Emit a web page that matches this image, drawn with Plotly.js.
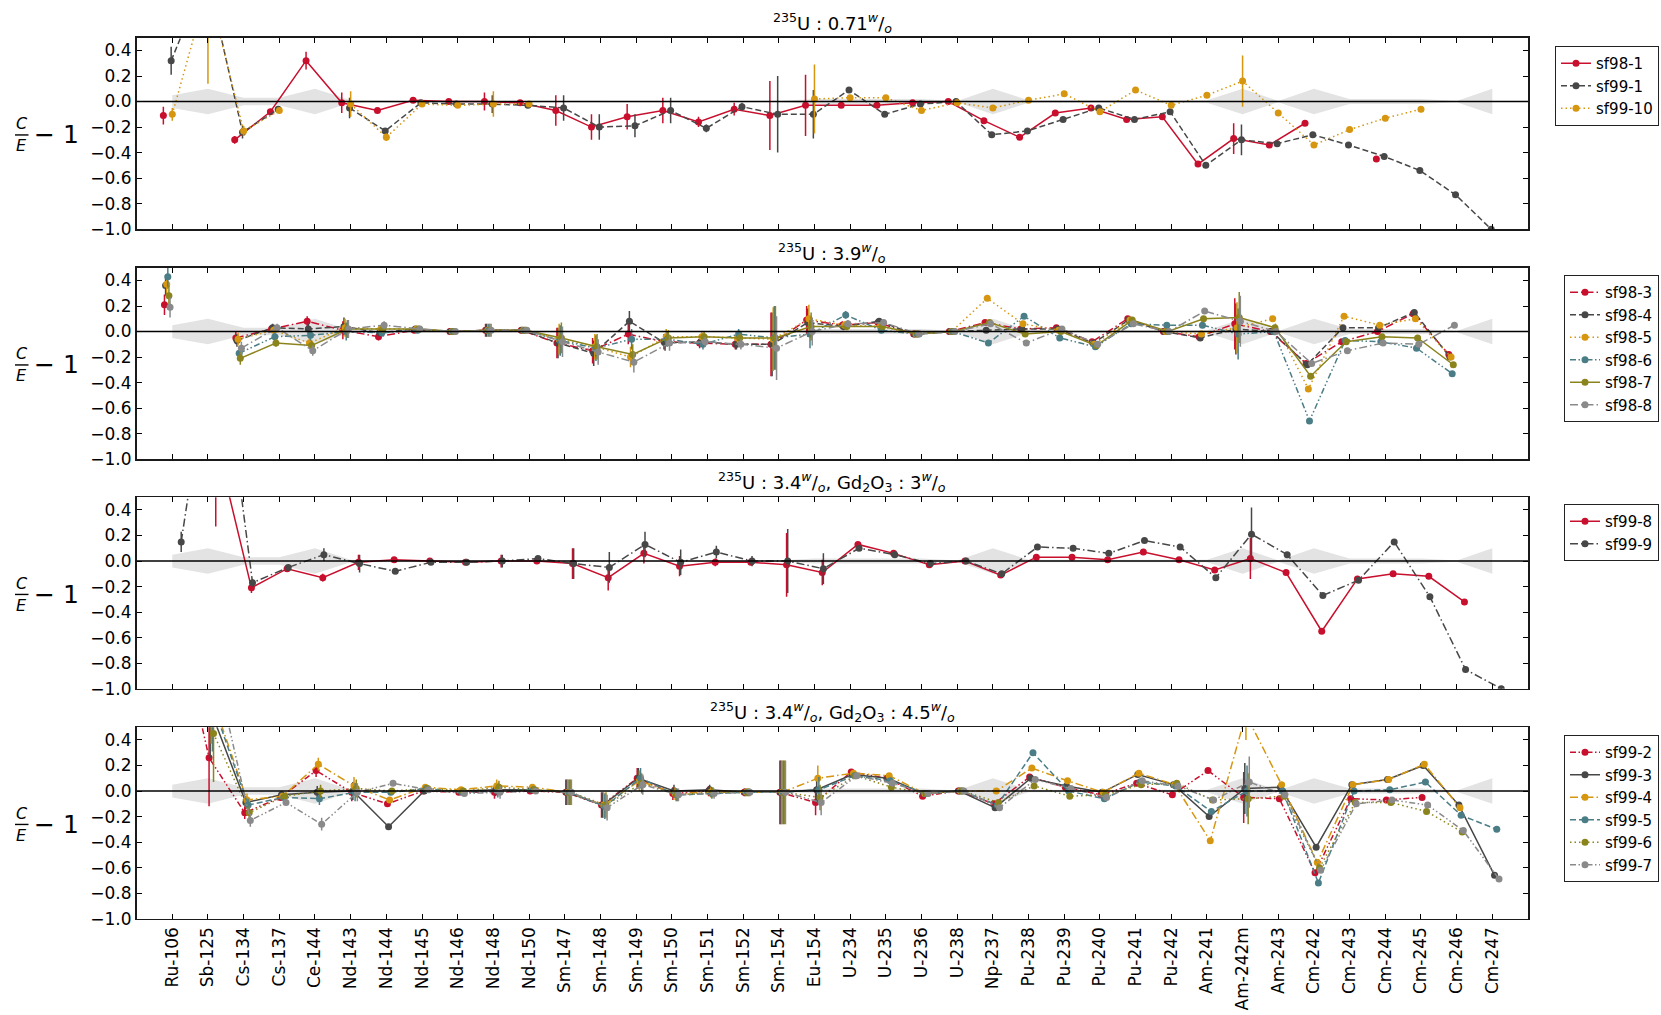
<!DOCTYPE html>
<html><head><meta charset="utf-8">
<script src="https://cdn.plot.ly/plotly-3.0.1.min.js"></script>
<style>html,body{margin:0;padding:0;background:#fff}#chart{width:1661px;height:1015px}</style>
</head><body><div id="chart"></div>
<script>
// ---------------- DATA ----------------
const categories = ["Ru-106","Sb-125","Cs-134","Cs-137","Ce-144","Nd-143","Nd-144","Nd-145","Nd-146","Nd-148","Nd-150",
  "Sm-147","Sm-148","Sm-149","Sm-150","Sm-151","Sm-152","Sm-154","Eu-154","U-234","U-235","U-236","U-238","Np-237",
  "Pu-238","Pu-239","Pu-240","Pu-241","Pu-242","Am-241","Am-242m","Am-243","Cm-242","Cm-243","Cm-244","Cm-245","Cm-246","Cm-247"];

// half width of the grey uncertainty band (same in every panel)
const bandHalfWidth = [0.05,0.10,0.03,0.03,0.10,0.01,0.005,0.005,0.005,0.005,0.005,0.005,0.005,0.005,0.005,0.005,0.005,0.005,
  0.02,0.02,0.02,0.02,0.005,0.10,0.01,0.01,0.01,0.01,0.01,0.01,0.10,0.005,0.10,0.02,0.02,0.02,0.005,0.10];

// Panel 1 : 235U 0.71 w/o
const sf98_1 = [-0.11,null,-0.30,-0.08,0.32,-0.01,-0.07,0.01,0.00,0.00,-0.01,-0.07,-0.20,-0.12,-0.07,-0.16,-0.06,-0.11,-0.03,
  -0.03,-0.03,-0.01,0.00,-0.15,-0.28,-0.09,-0.05,-0.14,-0.12,-0.49,-0.29,-0.34,-0.17,null,-0.45,null,null,null];
const err_sf98_1 = [0.07,0,0.03,0.02,0.07,0.08,0.02,0.01,0.01,0.07,0.01,0.12,0.10,0.10,0.10,0.04,0.05,0.27,0.24,
  0,0,0,0,0,0,0,0,0,0,0,0.12,0,0,0,0,0,0,0];
const sf99_1 = [0.32,1.00,-0.24,-0.06,null,-0.05,-0.23,-0.01,-0.02,-0.02,-0.03,-0.05,-0.20,-0.19,-0.07,-0.21,-0.04,-0.10,-0.10,
  0.09,-0.10,-0.02,0.00,-0.26,-0.23,-0.14,-0.05,-0.14,-0.08,-0.50,-0.30,-0.33,-0.26,-0.34,-0.43,-0.54,-0.73,-1.00];
const err_sf99_1 = [0.11,0,0.05,0.02,0,0.08,0.02,0.01,0.01,0.07,0.01,0.10,0.10,0.09,0.10,0.03,0.03,0.30,0.19,
  0,0,0,0,0,0,0,0,0,0,0,0.12,0,0,0,0,0,0,0];
const sf99_10 = [-0.10,0.90,-0.23,-0.07,null,-0.02,-0.28,-0.02,-0.03,-0.02,-0.02,null,null,null,null,null,null,null,0.02,
  0.03,0.03,-0.07,-0.01,-0.05,0.01,0.06,-0.08,0.09,-0.03,0.05,0.16,-0.09,-0.34,-0.22,-0.13,-0.06,null,null];
const err_sf99_10 = [0.05,0.76,0.04,0.02,0,0.10,0.03,0.01,0.01,0.10,0.01,0,0,0,0,0,0,0,0.27,
  0,0,0,0,0,0,0,0,0,0,0,0.20,0,0,0,0,0,0,0];

// Panel 2 : 235U 3.9 w/o
const sf98_3 = [0.21,null,-0.05,0.02,0.08,0.01,-0.04,0.01,0.00,0.01,0.01,-0.09,-0.15,-0.02,-0.08,-0.09,-0.10,-0.10,0.09,
  0.05,0.07,-0.02,0.00,0.07,0.02,0.03,-0.08,0.10,0.00,-0.04,0.06,0.00,-0.25,-0.08,0.00,0.14,-0.18,null];
const sf98_4 = [0.36,null,-0.07,0.03,0.02,0.04,-0.01,0.02,0.00,0.01,0.01,-0.09,-0.17,0.08,-0.09,-0.08,-0.10,-0.10,0.07,
  0.04,0.08,-0.02,0.00,0.01,0.02,0.02,-0.09,0.09,0.00,-0.05,0.02,0.00,-0.26,0.03,0.03,0.15,-0.20,null];
const sf98_5 = [0.37,null,-0.06,0.01,-0.09,0.03,0.02,0.02,0.00,0.01,0.01,-0.06,-0.12,-0.20,-0.04,-0.04,-0.05,-0.06,0.10,
  0.05,0.04,-0.02,0.00,0.26,0.06,0.01,-0.10,0.09,0.00,-0.02,0.03,0.10,-0.45,0.12,0.05,0.10,-0.20,null];
const sf98_6 = [0.43,null,-0.17,-0.04,-0.03,0.00,-0.01,0.01,0.00,0.01,0.01,-0.07,-0.13,-0.06,-0.06,-0.10,-0.02,-0.05,-0.02,
  0.13,0.01,-0.02,0.00,-0.09,0.12,-0.05,-0.12,0.06,0.05,0.05,-0.02,0.00,-0.70,-0.07,-0.08,-0.13,-0.33,null];
const sf98_7 = [0.28,null,-0.21,-0.09,-0.11,0.02,0.02,0.02,0.00,0.01,0.01,-0.05,-0.12,-0.18,-0.05,-0.04,-0.05,-0.05,0.04,
  0.04,0.04,-0.02,0.00,0.07,-0.02,0.00,-0.11,0.09,0.00,0.10,0.11,0.03,-0.35,-0.08,-0.04,-0.05,-0.26,null];
const sf98_8 = [0.19,null,-0.13,0.03,-0.15,0.02,0.05,0.02,0.00,0.01,0.01,-0.08,-0.16,-0.24,-0.09,-0.08,-0.10,-0.13,0.00,
  0.06,0.07,-0.02,0.00,0.06,-0.09,0.02,-0.10,0.06,0.00,0.16,0.08,0.00,-0.25,-0.15,-0.09,-0.10,0.05,null];
const err_panel2 = [0.08,0,0.05,0.03,0.04,0.07,0.03,0.02,0.01,0.05,0.01,0.12,0.10,0.08,0.06,0.04,0.04,0.25,0.11,
  0.03,0.02,0.01,0.01,0.02,0.02,0.02,0.02,0.02,0.02,0.02,0.20,0.02,0.02,0.02,0.02,0.02,0.02,0];

// Panel 3 : 235U 3.4 w/o, Gd2O3 3 w/o
const sf99_8 = [null,0.95,-0.21,-0.06,-0.13,-0.01,0.01,0.00,-0.01,0.00,0.00,-0.02,-0.13,0.06,-0.04,-0.01,-0.01,-0.03,-0.09,
  0.13,0.06,-0.03,0.00,-0.11,0.03,0.03,0.01,0.07,0.01,-0.07,0.02,-0.09,-0.55,-0.14,-0.10,-0.12,-0.32,null];
const err_sf99_8 = [0,0.68,0.04,0.01,0.03,0.06,0.02,0.01,0.01,0.05,0.01,0.12,0.10,0.08,0.08,0.03,0.02,0.25,0.10,
  0.01,0.01,0.01,0.01,0.01,0.01,0.01,0.01,0.01,0.01,0.01,0.16,0.01,0.01,0.01,0.01,0.01,0.01,0];
const sf99_9 = [0.15,2.00,-0.17,-0.05,0.05,-0.02,-0.08,-0.01,-0.01,0.00,0.02,-0.02,-0.05,0.13,-0.01,0.07,0.00,0.00,-0.06,
  0.10,0.05,-0.02,0.00,-0.10,0.11,0.10,0.06,0.16,0.11,-0.13,0.21,0.05,-0.27,-0.15,0.15,-0.28,-0.85,-1.00];
const err_sf99_9 = [0.08,0,0.03,0.01,0.05,0.07,0.02,0.01,0.01,0.05,0.01,0.12,0.12,0.10,0.10,0.05,0.04,0.25,0.12,
  0.01,0.01,0.01,0.01,0.01,0.01,0.01,0.01,0.01,0.01,0.01,0.21,0.01,0.01,0.01,0.01,0.01,0.01,0.01];

// Panel 4 : 235U 3.4 w/o, Gd2O3 4.5 w/o
const sf99_2 = [1.50,0.26,-0.17,-0.05,0.16,-0.01,-0.10,0.00,-0.01,-0.01,0.00,-0.01,-0.11,0.10,-0.02,0.00,-0.01,-0.01,-0.09,
  0.15,0.10,-0.04,0.00,-0.10,0.11,0.03,-0.03,0.06,-0.03,0.16,-0.05,-0.06,-0.64,-0.06,-0.07,-0.05,null,null];
const sf99_3 = [null,0.64,-0.09,-0.03,-0.01,0.00,-0.28,0.00,0.00,0.01,0.01,-0.01,-0.11,0.10,0.00,0.01,-0.01,-0.01,0.01,
  0.13,0.10,-0.02,0.00,-0.13,0.10,0.04,-0.01,0.13,0.05,-0.20,0.02,0.03,-0.44,0.05,0.09,0.20,-0.11,-0.66];
const sf99_4 = [null,0.75,-0.07,-0.04,0.21,0.04,-0.07,0.03,0.01,0.04,0.03,-0.01,-0.11,0.08,-0.02,-0.01,-0.01,-0.01,0.10,
  0.14,0.12,-0.02,0.00,0.00,0.18,0.08,-0.01,0.14,0.05,-0.39,0.60,0.05,-0.56,0.05,0.09,0.21,-0.13,null];
const sf99_5 = [null,0.69,-0.11,-0.05,-0.06,-0.01,-0.01,0.02,-0.01,0.00,0.01,-0.01,-0.12,0.10,-0.03,-0.02,-0.01,-0.01,0.01,
  0.12,0.08,-0.02,0.00,-0.11,0.30,0.00,-0.06,0.07,0.04,-0.16,0.00,0.00,-0.72,0.00,0.01,0.07,-0.19,-0.30];
const sf99_6 = [null,0.45,-0.17,-0.04,0.00,0.02,0.00,0.02,0.00,0.03,0.01,-0.01,-0.11,0.06,-0.03,-0.01,-0.01,-0.01,-0.05,
  0.12,0.03,-0.02,0.00,-0.09,0.04,-0.04,-0.03,0.05,0.06,-0.07,-0.06,-0.04,-0.60,-0.09,-0.09,-0.16,-0.32,null];
const sf99_7 = [null,1.00,-0.23,-0.09,-0.26,-0.01,0.06,0.01,-0.02,-0.01,0.00,-0.01,-0.13,0.05,-0.03,-0.02,-0.01,-0.01,-0.09,
  0.12,0.06,-0.02,0.00,-0.13,0.09,0.02,-0.05,0.08,0.04,-0.07,0.07,-0.03,-0.62,-0.10,-0.07,-0.11,-0.31,-0.69];
const err_panel4 = [0.30,0.38,0.05,0.02,0.05,0.07,0.02,0.02,0.02,0.05,0.02,0.10,0.10,0.08,0.05,0.04,0.03,0.25,0.10,
  0.02,0.02,0.01,0.01,0.02,0.02,0.02,0.02,0.02,0.02,0.02,0.20,0.02,0.02,0.02,0.02,0.02,0.02,0.02];

const panelTitles = [
  "<sup>235</sup>U : 0.71<sup><i>w</i></sup>/<sub><i>o</i></sub>",
  "<sup>235</sup>U : 3.9<sup><i>w</i></sup>/<sub><i>o</i></sub>",
  "<sup>235</sup>U : 3.4<sup><i>w</i></sup>/<sub><i>o</i></sub>, Gd<sub>2</sub>O<sub>3</sub> : 3<sup><i>w</i></sup>/<sub><i>o</i></sub>",
  "<sup>235</sup>U : 3.4<sup><i>w</i></sup>/<sub><i>o</i></sub>, Gd<sub>2</sub>O<sub>3</sub> : 4.5<sup><i>w</i></sup>/<sub><i>o</i></sub>"
];

// ---------------- STYLE ----------------
const C = {red:"#c8102e", dark:"#474747", orange:"#d6960f", teal:"#4b7d87", olive:"#8b831c", light:"#8a8a8a"};
const D = {solid:"solid", dash:"6px,3px", dot:"1.5px,3px", dashdot:"8px,3px,1.5px,3px", dashdotdot:"6px,2.5px,1.5px,2.5px,1.5px,2.5px"};

const panels = [
  [{name:"sf98-1", y:sf98_1, e:err_sf98_1, c:C.red, d:D.solid},
   {name:"sf99-1", y:sf99_1, e:err_sf99_1, c:C.dark, d:D.dash},
   {name:"sf99-10", y:sf99_10, e:err_sf99_10, c:C.orange, d:D.dot}],
  [{name:"sf98-3", y:sf98_3, e:err_panel2, c:C.red, d:D.dashdot},
   {name:"sf98-4", y:sf98_4, e:err_panel2, c:C.dark, d:D.dash},
   {name:"sf98-5", y:sf98_5, e:err_panel2, c:C.orange, d:D.dot},
   {name:"sf98-6", y:sf98_6, e:err_panel2, c:C.teal, d:D.dashdotdot},
   {name:"sf98-7", y:sf98_7, e:err_panel2, c:C.olive, d:D.solid},
   {name:"sf98-8", y:sf98_8, e:err_panel2, c:C.light, d:D.dashdot}],
  [{name:"sf99-8", y:sf99_8, e:err_sf99_8, c:C.red, d:D.solid},
   {name:"sf99-9", y:sf99_9, e:err_sf99_9, c:C.dark, d:D.dashdot}],
  [{name:"sf99-2", y:sf99_2, e:err_panel4, c:C.red, d:D.dashdotdot},
   {name:"sf99-3", y:sf99_3, e:err_panel4, c:C.dark, d:D.solid},
   {name:"sf99-4", y:sf99_4, e:err_panel4, c:C.orange, d:D.dashdot},
   {name:"sf99-5", y:sf99_5, e:err_panel4, c:C.teal, d:D.dash},
   {name:"sf99-6", y:sf99_6, e:err_panel4, c:C.olive, d:D.dot},
   {name:"sf99-7", y:sf99_7, e:err_panel4, c:C.light, d:D.dashdotdot}]
];

// horizontal dodge of each sample, from its position in the sorted sample list
const allNames = panels.flat().map(s => s.name).sort();
const dodge = name => -0.25 + allNames.indexOf(name) * 0.5 / (allNames.length - 1);

const W = 1661, H = 1015, FONT = "DejaVu Sans";
const py = p => 1 - p / H;
const panelTop = [37.7, 267.7, 497.2, 727.2], panelH = 191.5;
const legendTop = [46, 275, 504, 735];
const xDomain = [136.6 / W, 1528 / W];
const idx = categories.map((_, i) => i);

const traces = [], shapes = [], annotations = [];
const layout = {
  width: W, height: H, margin: {l: 0, r: 0, t: 0, b: 0},
  paper_bgcolor: "#fff", plot_bgcolor: "#fff",
  font: {family: FONT, color: "#000", size: 15},
  showlegend: true
};

panels.forEach((series, p) => {
  const n = p === 0 ? "" : String(p + 1);
  const xa = "x" + n, ya = "y" + n, lg = "legend" + n;
  // grey band
  traces.push({
    x: idx.concat(idx.slice().reverse()),
    y: bandHalfWidth.concat(bandHalfWidth.slice().reverse().map(v => -v)),
    xaxis: xa, yaxis: ya, mode: "lines", fill: "toself", fillcolor: "#e3e3e3",
    line: {width: 0}, hoverinfo: "skip", showlegend: false
  });
  series.forEach(s => {
    const off = dodge(s.name);
    traces.push({
      name: s.name, legend: lg, xaxis: xa, yaxis: ya, type: "scatter", mode: "lines+markers",
      x: s.y.map((_, i) => i + off), y: s.y,
      line: {color: s.c, width: 1.5, dash: s.d},
      marker: {color: s.c, size: 7},
      error_y: {type: "data", array: s.e, visible: true, width: 0, thickness: 1.5, color: s.c}
    });
  });
  const top = panelTop[p], bot = top + panelH;
  layout["xaxis" + n] = {
    domain: xDomain, anchor: ya, range: [-1, 38], tickmode: "array", tickvals: idx, ticktext: categories,
    showticklabels: p === 3, tickangle: -90, tickfont: {size: 17, family: FONT},
    ticks: "inside", ticklen: 5, tickwidth: 1, tickcolor: "#000", mirror: "ticks",
    showline: true, linecolor: "#1a1a1a", linewidth: 1.6, showgrid: false, zeroline: false
  };
  layout["yaxis" + n] = {
    domain: [py(bot), py(top)], anchor: xa, range: [-1, 0.5], tick0: -1, dtick: 0.2, tickformat: ".1f",
    tickfont: {size: 17, family: FONT},
    ticks: "inside", ticklen: 5, tickwidth: 1, tickcolor: "#000", mirror: "ticks",
    showline: true, linecolor: "#1a1a1a", linewidth: 1.6, showgrid: false, zeroline: false
  };
  layout[lg] = {
    x: 1659 / W, xanchor: "right", y: py(legendTop[p]), yanchor: "top",
    bgcolor: "#fff", bordercolor: "#222", borderwidth: 1, font: {size: 15, family: FONT}
  };
  // zero reference line
  shapes.push({type: "line", xref: xa + " domain", yref: ya, x0: 0, x1: 1, y0: 0, y1: 0,
    line: {color: "#000", width: 1.5}, layer: "above"});
  // subplot title
  annotations.push({text: panelTitles[p], xref: "paper", yref: "paper", x: (xDomain[0] + xDomain[1]) / 2,
    y: py(top - 15), xanchor: "center", yanchor: "middle", showarrow: false, font: {size: 18, family: FONT}});
  // y label  C/E - 1
  const yc = top + panelH / 2;
  annotations.push({text: "<i>C</i>", xref: "paper", yref: "paper", x: 21.5 / W, y: py(yc - 9.5),
    xanchor: "center", yanchor: "middle", showarrow: false, font: {size: 16, family: FONT}});
  annotations.push({text: "<i>E</i>", xref: "paper", yref: "paper", x: 21.5 / W, y: py(yc + 12.5),
    xanchor: "center", yanchor: "middle", showarrow: false, font: {size: 16, family: FONT}});
  shapes.push({type: "line", xref: "paper", yref: "paper", x0: 15 / W, x1: 28.5 / W, y0: py(yc + 1.5), y1: py(yc + 1.5),
    line: {color: "#000", width: 1.4}});
  annotations.push({text: "\u2212 1", xref: "paper", yref: "paper", x: 32 / W, y: py(yc + 1.5),
    xanchor: "left", yanchor: "middle", showarrow: false, font: {size: 25, family: FONT}});
});
layout.shapes = shapes;
layout.annotations = annotations;

Plotly.newPlot("chart", traces, layout, {staticPlot: true, displayModeBar: false});
</script>
</body></html>
